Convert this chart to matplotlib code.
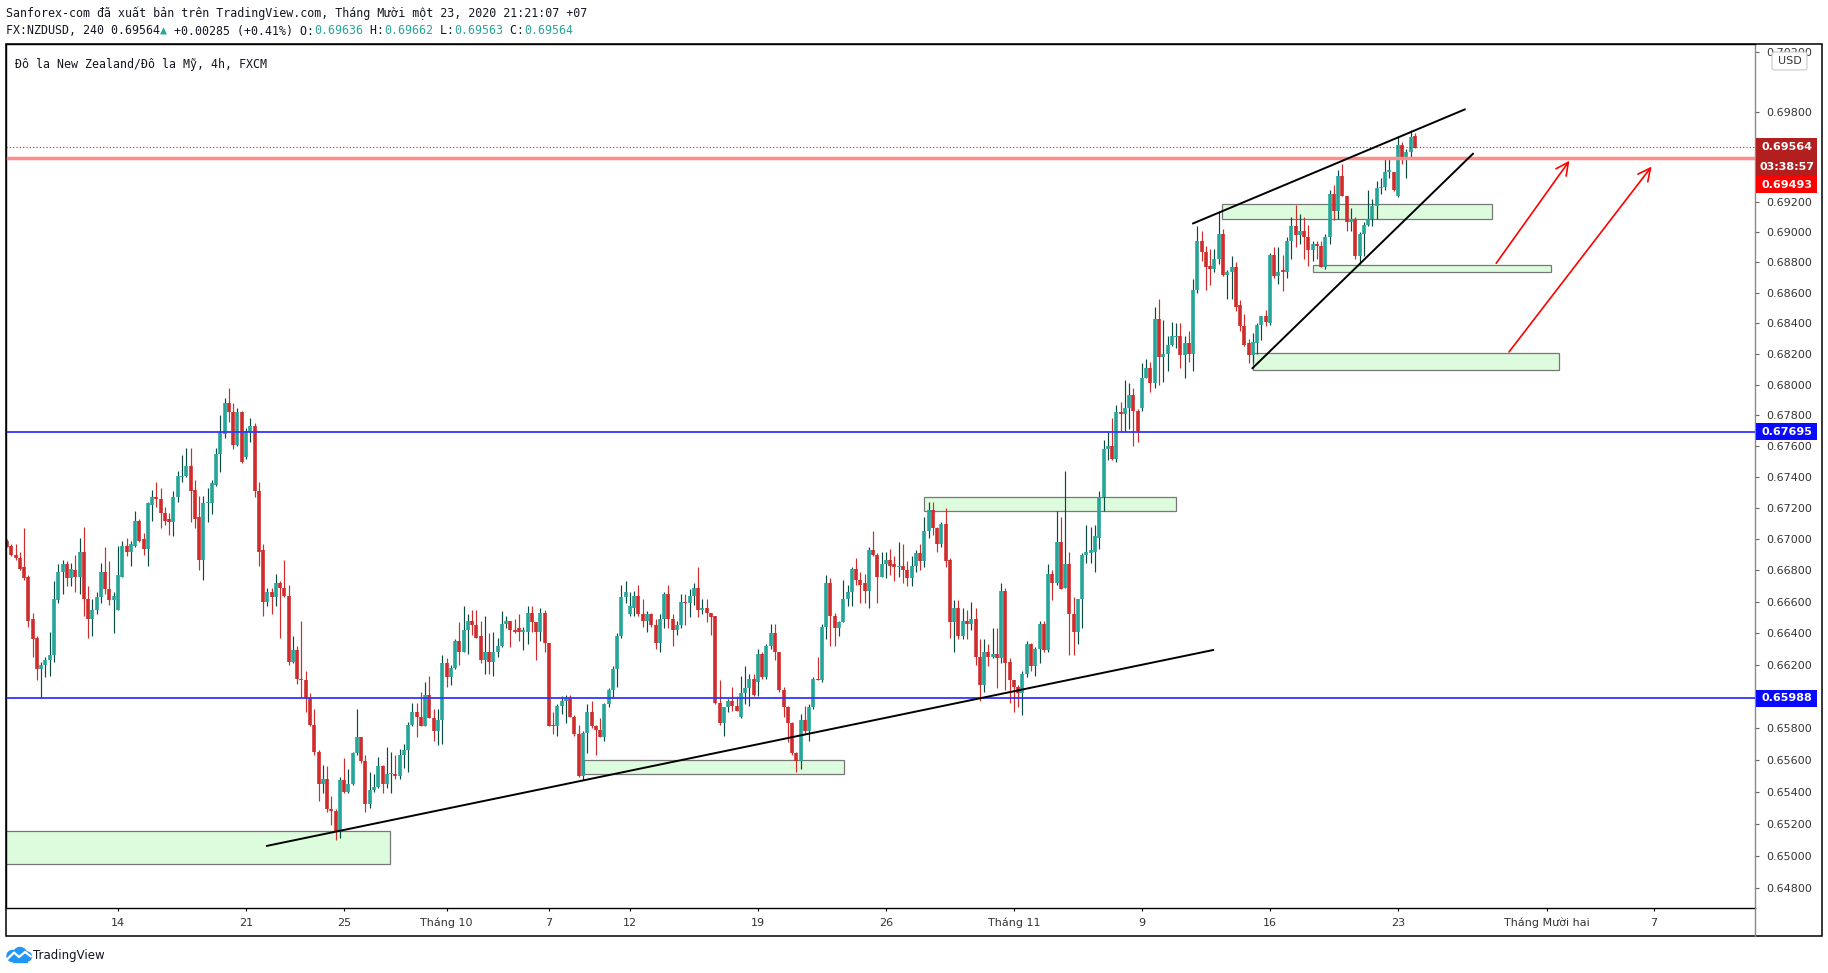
import matplotlib.pyplot as plt
from matplotlib.patches import Rectangle, FancyBboxPatch, Circle
from matplotlib.ticker import NullLocator
import numpy as np

W, H = 1828, 973

# NZDUSD 4h candles (FXCM), Sep 8 -> Nov 23 2020, in pips (price x 10000)
open_pips = [
    6699, 6696, 6690, 6688, 6682, 6676, 6649, 6637, 6617, 6620,
    6623, 6626, 6661, 6679, 6684, 6675, 6680, 6676, 6692, 6662,
    6649, 6655, 6663, 6679, 6668, 6661, 6655, 6676, 6696, 6692,
    6696, 6712, 6700, 6694, 6722, 6727, 6726, 6717, 6713, 6711,
    6727, 6740, 6741, 6747, 6732, 6714, 6687, 6723, 6723, 6735,
    6755, 6768, 6788, 6782, 6761, 6782, 6753, 6769, 6773, 6731,
    6693, 6660, 6666, 6663, 6672, 6669, 6664, 6622, 6629, 6611,
    6610, 6599, 6582, 6565, 6545, 6548, 6529, 6528, 6515, 6547,
    6540, 6545, 6564, 6574, 6559, 6532, 6541, 6543, 6556, 6545,
    6551, 6551, 6550, 6563, 6566, 6582, 6590, 6587, 6581, 6601,
    6586, 6578, 6585, 6621, 6612, 6618, 6635, 6628, 6642, 6648,
    6645, 6638, 6623, 6628, 6622, 6628, 6632, 6646, 6648, 6642,
    6643, 6641, 6641, 6653, 6647, 6641, 6653, 6634, 6582, 6581,
    6594, 6597, 6599, 6587, 6576, 6550, 6577, 6590, 6581, 6579,
    6574, 6595, 6604, 6617, 6638, 6663, 6652, 6656, 6664, 6652,
    6648, 6652, 6645, 6634, 6649, 6665, 6649, 6642, 6645, 6660,
    6659, 6664, 6669, 6655, 6656, 6653, 6651, 6596, 6583, 6593,
    6597, 6594, 6587, 6602, 6605, 6611, 6609, 6627, 6612, 6632,
    6640, 6628, 6604, 6593, 6583, 6564, 6559, 6585, 6578, 6593,
    6611, 6610, 6644, 6672, 6651, 6643, 6647, 6662, 6666, 6681,
    6674, 6672, 6667, 6693, 6690, 6676, 6684, 6687, 6684, 6682,
    6683, 6680, 6675, 6683, 6691, 6686, 6705, 6719, 6707, 6697,
    6710, 6687, 6647, 6656, 6638, 6648, 6646, 6649, 6625, 6607,
    6628, 6625, 6627, 6624, 6667, 6622, 6610, 6606, 6602, 6614,
    6633, 6619, 6630, 6646, 6629, 6678, 6672, 6698, 6669, 6684,
    6652, 6641, 6662, 6690, 6691, 6692, 6701, 6727, 6758, 6760,
    6752, 6782, 6781, 6785, 6793, 6783, 6785, 6804, 6811, 6801,
    6843, 6818, 6820, 6826, 6831, 6832, 6819, 6827, 6820, 6862,
    6894, 6887, 6878, 6876, 6882, 6899, 6872, 6874, 6877, 6852,
    6838, 6827, 6819, 6827, 6839, 6845, 6840, 6885, 6871, 6875,
    6874, 6894, 6904, 6898, 6901, 6897, 6888, 6892, 6891, 6877,
    6897, 6925, 6914, 6937, 6924, 6907, 6909, 6884, 6899, 6905,
    6909, 6917, 6929, 6930, 6940, 6940, 6924, 6958, 6949, 6953, 6964,
]
high_pips = [
    6700, 6697, 6697, 6692, 6707, 6677, 6653, 6638, 6622, 6625,
    6641, 6673, 6684, 6687, 6686, 6685, 6690, 6701, 6708, 6670,
    6662, 6666, 6685, 6695, 6686, 6666, 6696, 6699, 6701, 6699,
    6718, 6713, 6704, 6724, 6732, 6737, 6733, 6721, 6717, 6731,
    6744, 6754, 6759, 6759, 6738, 6728, 6728, 6733, 6738, 6759,
    6780, 6791, 6798, 6788, 6785, 6783, 6772, 6778, 6775, 6737,
    6697, 6669, 6669, 6678, 6673, 6687, 6671, 6638, 6632, 6648,
    6616, 6602, 6592, 6566, 6557, 6556, 6537, 6529, 6549, 6561,
    6554, 6565, 6592, 6574, 6563, 6552, 6551, 6562, 6557, 6568,
    6565, 6563, 6567, 6570, 6584, 6596, 6596, 6603, 6609, 6613,
    6592, 6592, 6626, 6624, 6620, 6636, 6647, 6657, 6652, 6655,
    6655, 6648, 6651, 6640, 6641, 6637, 6654, 6651, 6648, 6649,
    6652, 6644, 6657, 6657, 6647, 6656, 6655, 6634, 6590, 6595,
    6600, 6601, 6601, 6588, 6582, 6578, 6595, 6597, 6582, 6586,
    6596, 6605, 6619, 6640, 6671, 6673, 6666, 6667, 6671, 6662,
    6654, 6653, 6649, 6652, 6666, 6671, 6652, 6648, 6665, 6665,
    6668, 6672, 6682, 6662, 6662, 6653, 6651, 6610, 6593, 6598,
    6606, 6600, 6613, 6619, 6614, 6614, 6630, 6628, 6633, 6646,
    6646, 6628, 6606, 6594, 6584, 6565, 6589, 6594, 6595, 6612,
    6625, 6646, 6677, 6675, 6653, 6648, 6674, 6671, 6682, 6688,
    6679, 6678, 6695, 6705, 6691, 6692, 6692, 6694, 6689, 6698,
    6697, 6686, 6689, 6693, 6697, 6714, 6724, 6724, 6708, 6711,
    6720, 6688, 6661, 6661, 6656, 6655, 6660, 6656, 6636, 6636,
    6633, 6643, 6643, 6672, 6669, 6624, 6610, 6607, 6616, 6635,
    6634, 6631, 6648, 6648, 6684, 6680, 6718, 6714, 6744, 6692,
    6663, 6662, 6691, 6709, 6708, 6709, 6731, 6764, 6769, 6778,
    6787, 6789, 6803, 6801, 6798, 6784, 6814, 6817, 6815, 6851,
    6856, 6842, 6832, 6841, 6840, 6840, 6832, 6835, 6869, 6904,
    6901, 6891, 6889, 6889, 6914, 6902, 6875, 6884, 6880, 6855,
    6846, 6830, 6834, 6840, 6845, 6849, 6886, 6890, 6890, 6885,
    6897, 6910, 6918, 6912, 6910, 6905, 6894, 6894, 6894, 6899,
    6928, 6931, 6941, 6945, 6924, 6916, 6910, 6900, 6907, 6928,
    6922, 6934, 6936, 6950, 6950, 6940, 6964, 6960, 6955, 6968, 6966,
]
low_pips = [
    6695, 6689, 6687, 6680, 6674, 6644, 6625, 6610, 6599, 6612,
    6613, 6622, 6659, 6665, 6670, 6670, 6666, 6665, 6651, 6637,
    6638, 6652, 6659, 6665, 6658, 6640, 6655, 6676, 6689, 6683,
    6695, 6698, 6690, 6683, 6712, 6721, 6707, 6709, 6703, 6702,
    6724, 6737, 6740, 6711, 6707, 6680, 6674, 6711, 6716, 6734,
    6743, 6765, 6776, 6758, 6760, 6749, 6752, 6763, 6727, 6683,
    6651, 6657, 6652, 6657, 6637, 6663, 6620, 6621, 6608, 6599,
    6590, 6581, 6563, 6534, 6539, 6527, 6519, 6510, 6511, 6539,
    6539, 6544, 6563, 6558, 6527, 6530, 6540, 6542, 6539, 6542,
    6539, 6548, 6548, 6555, 6552, 6581, 6574, 6581, 6581, 6586,
    6572, 6569, 6570, 6606, 6607, 6617, 6620, 6628, 6627, 6639,
    6637, 6621, 6614, 6614, 6613, 6625, 6631, 6643, 6631, 6640,
    6635, 6629, 6633, 6641, 6623, 6635, 6628, 6581, 6576, 6575,
    6589, 6583, 6587, 6575, 6549, 6547, 6564, 6580, 6563, 6574,
    6572, 6593, 6599, 6606, 6637, 6659, 6651, 6651, 6651, 6644,
    6641, 6644, 6630, 6628, 6643, 6643, 6632, 6639, 6643, 6645,
    6650, 6658, 6650, 6652, 6647, 6639, 6595, 6582, 6575, 6590,
    6591, 6591, 6586, 6595, 6594, 6600, 6600, 6611, 6611, 6630,
    6623, 6603, 6587, 6571, 6563, 6552, 6554, 6577, 6572, 6592,
    6610, 6609, 6636, 6632, 6632, 6638, 6647, 6657, 6657, 6671,
    6659, 6659, 6656, 6689, 6659, 6676, 6675, 6677, 6673, 6676,
    6672, 6670, 6670, 6679, 6680, 6682, 6701, 6703, 6692, 6695,
    6682, 6637, 6628, 6636, 6636, 6636, 6642, 6620, 6597, 6603,
    6619, 6624, 6605, 6621, 6604, 6596, 6590, 6593, 6588, 6612,
    6616, 6613, 6621, 6628, 6628, 6661, 6671, 6668, 6669, 6626,
    6626, 6633, 6643, 6685, 6685, 6679, 6694, 6718, 6751, 6751,
    6750, 6769, 6770, 6771, 6760, 6763, 6783, 6804, 6795, 6798,
    6800, 6802, 6809, 6825, 6824, 6811, 6804, 6815, 6809, 6860,
    6881, 6862, 6865, 6874, 6879, 6871, 6856, 6856, 6848, 6835,
    6825, 6814, 6814, 6820, 6829, 6838, 6839, 6870, 6866, 6861,
    6870, 6882, 6890, 6892, 6882, 6878, 6881, 6882, 6877, 6876,
    6892, 6908, 6909, 6924, 6901, 6901, 6882, 6879, 6884, 6904,
    6904, 6909, 6925, 6928, 6936, 6927, 6923, 6945, 6936, 6950, 6956,
]
close_pips = [
    6695, 6690, 6688, 6681, 6675, 6648, 6636, 6617, 6620, 6623,
    6626, 6662, 6679, 6684, 6675, 6681, 6676, 6692, 6662, 6649,
    6655, 6663, 6679, 6668, 6661, 6664, 6677, 6696, 6692, 6697,
    6712, 6699, 6694, 6723, 6727, 6726, 6717, 6712, 6711, 6727,
    6741, 6741, 6747, 6731, 6713, 6687, 6723, 6724, 6736, 6755,
    6769, 6788, 6782, 6761, 6782, 6750, 6770, 6773, 6731, 6692,
    6660, 6666, 6663, 6672, 6669, 6664, 6622, 6629, 6611, 6610,
    6599, 6582, 6565, 6545, 6548, 6529, 6528, 6515, 6547, 6540,
    6545, 6564, 6574, 6559, 6532, 6541, 6543, 6556, 6545, 6551,
    6551, 6550, 6563, 6566, 6582, 6590, 6587, 6581, 6601, 6586,
    6578, 6585, 6621, 6612, 6618, 6635, 6628, 6642, 6648, 6645,
    6637, 6623, 6628, 6622, 6628, 6632, 6646, 6648, 6642, 6641,
    6641, 6642, 6653, 6647, 6641, 6653, 6634, 6581, 6581, 6594,
    6597, 6599, 6587, 6576, 6550, 6577, 6590, 6581, 6579, 6574,
    6595, 6604, 6617, 6638, 6663, 6666, 6657, 6664, 6652, 6648,
    6652, 6645, 6634, 6649, 6665, 6649, 6642, 6645, 6660, 6659,
    6664, 6669, 6655, 6656, 6653, 6650, 6596, 6583, 6593, 6597,
    6594, 6591, 6602, 6605, 6611, 6601, 6627, 6612, 6632, 6640,
    6628, 6604, 6593, 6583, 6564, 6559, 6585, 6578, 6593, 6611,
    6610, 6644, 6672, 6651, 6643, 6647, 6662, 6666, 6681, 6674,
    6671, 6667, 6693, 6690, 6676, 6684, 6687, 6683, 6682, 6683,
    6680, 6675, 6683, 6691, 6686, 6705, 6719, 6707, 6697, 6710,
    6686, 6647, 6656, 6638, 6648, 6646, 6649, 6625, 6607, 6628,
    6625, 6627, 6624, 6667, 6621, 6610, 6606, 6602, 6614, 6633,
    6619, 6630, 6646, 6629, 6678, 6672, 6698, 6668, 6684, 6652,
    6641, 6662, 6690, 6692, 6693, 6702, 6727, 6758, 6760, 6752,
    6782, 6781, 6785, 6793, 6783, 6770, 6804, 6811, 6801, 6843,
    6818, 6820, 6826, 6832, 6832, 6819, 6827, 6820, 6862, 6894,
    6887, 6877, 6876, 6882, 6899, 6872, 6874, 6877, 6851, 6838,
    6826, 6819, 6828, 6839, 6845, 6841, 6885, 6871, 6874, 6874,
    6894, 6904, 6898, 6901, 6897, 6888, 6892, 6891, 6877, 6897,
    6925, 6914, 6937, 6924, 6907, 6909, 6884, 6899, 6905, 6909,
    6917, 6929, 6930, 6940, 6941, 6928, 6958, 6949, 6953, 6963, 6956,
]

# time axis in trading days: 0 = Mon Sep 14, six 4h candles per day
first_candle_day = -26 / 6
date_ticks = [0, 5, 9 - 1/6, 13 - 1/6, 17 - 1/6, 20, 25, 30, 35, 40, 45, 50, 56 - 1/6, 60]
date_labels = ["14", "21", "25", "Tháng 10", "7", "12", "19", "26", "Tháng 11",
               "9", "16", "23", "Tháng Mười hai", "7"]

price_ticks = [0.648, 0.650, 0.652, 0.654, 0.656, 0.658, 0.662, 0.664, 0.666,
               0.668, 0.670, 0.672, 0.674, 0.676, 0.678, 0.680, 0.682, 0.684,
               0.686, 0.688, 0.690, 0.692, 0.698, 0.702]

blue_levels = [0.67695, 0.65988]
red_level = 0.69493
last_price = 0.69564
countdown = "03:38:57"

# drawings: (day, price)
trend_lines = [
    ((5.82, 0.65061), (42.78, 0.66293)),
    ((42.0, 0.69058), (52.61, 0.69816)),
    ((44.32, 0.68107), (52.93, 0.69520)),
]
zones = [  # day start, day end, price low, price high
    (-6, 10.64, 0.64949, 0.65151),
    (18.2, 28.35, 0.65510, 0.65596),
    (31.5, 41.32, 0.67184, 0.67270),
    (43.13, 53.66, 0.69088, 0.69186),
    (46.69, 55.98, 0.68737, 0.68783),
    (44.32, 56.3, 0.68095, 0.68204),
]
arrows = [
    ((53.84, 0.68795), (56.70, 0.69474)),
    ((54.34, 0.68213), (59.91, 0.69435)),
]

UP = "#26a69a"
UP_WICK = "#0b4a3e"
DOWN = "#d12c2c"
TEXT = "#131722"

plt.rcParams['font.family'] = ['DejaVu Sans']

fig = plt.figure(figsize=(W / 100, H / 100), dpi=100)
fig.patch.set_facecolor("white")
ax = fig.add_axes([6 / W, 1 - 908 / H, 1749 / W, 864 / H])
ax.set_yscale("log")
ax.set_xlim(-4.375, 63.95)
ax.set_ylim(0.64675, 0.70255)

o = np.array(open_pips) / 1e4
h = np.array(high_pips) / 1e4
l = np.array(low_pips) / 1e4
c = np.array(close_pips) / 1e4
x = first_candle_day + np.arange(len(o)) / 6
h = np.maximum(h, np.maximum(o, c))
l = np.minimum(l, np.minimum(o, c))
up = c >= o
lo = np.minimum(o, c)
hi = np.maximum(np.maximum(o, c), lo + 0.00006)

ax.vlines(x[up], l[up], h[up], colors=UP_WICK, lw=0.85, zorder=2)
ax.vlines(x[~up], l[~up], h[~up], colors=DOWN, lw=0.85, zorder=2)
ax.vlines(x[up], lo[up], hi[up], colors=UP, lw=2.6, zorder=2.1, capstyle="butt")
ax.vlines(x[~up], lo[~up], hi[~up], colors=DOWN, lw=2.6, zorder=2.1, capstyle="butt")

for x0, x1, p0, p1 in zones:
    ax.add_patch(Rectangle((x0, p0), x1 - x0, p1 - p0, facecolor="#ddfcdd",
                           edgecolor="#777777", lw=0.9, zorder=1))

for lvl in blue_levels:
    ax.axhline(lvl, color="#3434ff", lw=1.3, zorder=3)
ax.axhline(red_level, color="#ff8c8c", lw=2.5, zorder=3)
ax.axhline(last_price, color="#b22222", lw=0.8, ls=(0, (1, 2)), zorder=3)

for (x0, p0), (x1, p1) in trend_lines:
    ax.plot([x0, x1], [p0, p1], color="black", lw=1.4, zorder=4)

for start, end in arrows:
    ax.annotate("", xy=end, xytext=start,
                arrowprops=dict(arrowstyle="->,head_length=0.9,head_width=0.45",
                                color="red", lw=1.2, shrinkA=0, shrinkB=0), zorder=4)

# axes styling
ax.yaxis.tick_right()
ax.set_yticks(price_ticks, labels=[f"{p:.5f}" for p in price_ticks])
ax.yaxis.set_minor_locator(NullLocator())
ax.tick_params(axis="y", which="major", direction="out", length=3, width=0.8,
               color="#666666", labelcolor="#333333", labelsize=8, pad=5)
ax.set_xticks(date_ticks, labels=date_labels)
ax.tick_params(axis="x", direction="out", length=2.5, width=0.8, color="black",
               labelcolor="#333333", labelsize=8, pad=4.5)
for side in ["top", "left", "bottom"]:
    ax.spines[side].set_color("black")
    ax.spines[side].set_linewidth(1.0)
ax.spines["right"].set_color("#8a8a8a")
ax.spines["right"].set_linewidth(1.0)


def fx(px):
    return px / W


def fy(py):
    return 1 - py / H


# outer frame and price-axis divider in the time row
fig.patches.append(Rectangle((fx(6), fy(936)), fx(1816), 892 / H, fill=False,
                             edgecolor="black", lw=1.1, transform=fig.transFigure))
fig.add_artist(plt.Line2D([fx(1755), fx(1755)], [fy(908), fy(936)],
                          color="#8a8a8a", lw=1.0, transform=fig.transFigure))


def price_px(p):
    return H - ax.transData.transform((0, p))[1]


def axis_tag(yc, text, color, height=18):
    fig.patches.append(Rectangle((fx(1756), fy(yc + height / 2)), fx(61), height / H,
                                 facecolor=color, edgecolor="none",
                                 transform=fig.transFigure, zorder=2))
    fig.text(fx(1786.5), fy(yc), text, color="white", fontsize=8, weight="bold",
             ha="center", va="center", zorder=4)


y_last = price_px(last_price)
axis_tag(y_last, f"{last_price:.5f}", "#b31f1f", 19)
axis_tag(y_last + 19.5, countdown, "#b31f1f", 19)
axis_tag(y_last + 37.5, f"{red_level:.5f}", "#ff0000", 17)
for lvl in blue_levels:
    axis_tag(price_px(lvl), f"{lvl:.5f}", "#0a0aff", 17)

# USD button
fig.patches.append(FancyBboxPatch((fx(1772), fy(70)), fx(35), 18 / H,
                                  boxstyle="round,pad=0,rounding_size=0.002",
                                  facecolor="white", edgecolor="#c9c9c9", lw=0.8,
                                  transform=fig.transFigure, zorder=2))
fig.text(fx(1789.5), fy(61), "USD", color="#333333", fontsize=8,
         ha="center", va="center", zorder=4)

# header lines (monospace, 7 px per character)
MONO = ["DejaVu Sans Mono", "DejaVu Sans"]
CW = 7.0


def head(n, y, s, color=TEXT, x0=6):
    fig.text(fx(x0 + n * CW), fy(y), s, color=color, fontsize=8.4, family=MONO,
             ha="left", va="center")


head(0, 13.5, "Sanforex-com đã xuất bản trên TradingView.com, Tháng Mười một 23, 2020 21:21:07 +07")
head(0, 31, "FX:NZDUSD, 240 0.69564")
head(22, 31, "▲", UP)
head(23, 31, " +0.00285 (+0.41%) O:")
head(44, 31, "0.69636", UP)
head(51, 31, " H:")
head(54, 31, "0.69662", UP)
head(61, 31, " L:")
head(64, 31, "0.69563", UP)
head(71, 31, " C:")
head(74, 31, "0.69564", UP)
head(0, 64.5, "Đô la New Zealand/Đô la Mỹ, 4h, FXCM", x0=15)

# TradingView logo
lax = fig.add_axes([fx(6), fy(962), fx(26), 15 / H])
lax.set_xlim(0, 26)
lax.set_ylim(0, 15)
lax.axis("off")
for cx, cy, r in [(6.5, 6.0, 5.5), (14.0, 8.0, 6.5), (21.0, 5.5, 4.5)]:
    lax.add_patch(Circle((cx, cy), r, color="#2196f3", clip_on=False))
lax.add_patch(Rectangle((6.5, 0.5), 14.5, 5.5, color="#2196f3", clip_on=False))
lax.plot([1.5, 8, 13, 19, 25], [3, 9.5, 5, 10, 5.5], color="white", lw=1.6,
         solid_capstyle="round", clip_on=False)
fig.text(fx(33), fy(955), "TradingView", color=TEXT, fontsize=8.5, ha="left", va="center")

fig.savefig("out.png", dpi=100)
